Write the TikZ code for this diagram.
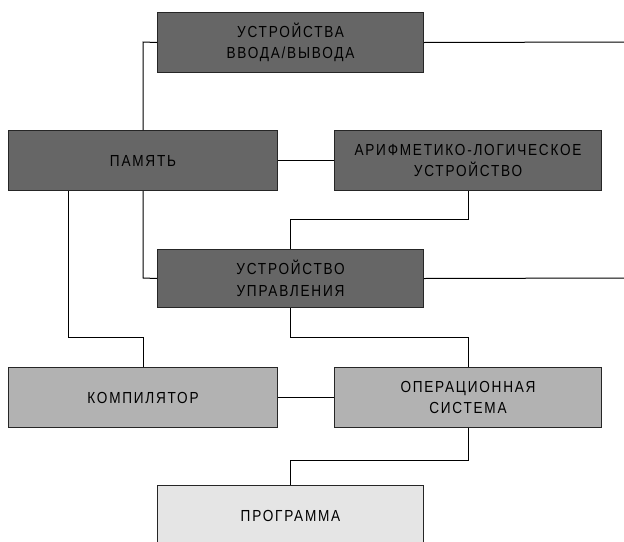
\documentclass[tikz,border=0pt]{standalone}
\usepackage{fontspec}
\setmainfont{Liberation Sans}[LetterSpace=11,FakeStretch=0.85]
\begin{document}
\begin{tikzpicture}[x=1pt,y=-1pt,
  box/.style={draw=black!85,line width=1pt,minimum width=266pt,minimum height=60pt,inner sep=0pt,align=center,font=\fontsize{16}{21.5}\selectfont,anchor=north west},
  dark/.style={box,fill=black!60},
  mid/.style={box,fill=black!30},
  light/.style={box,fill=black!10},
  wire/.style={draw=black,line width=1pt}]
\useasboundingbox (0,0) rectangle (624,541);
\clip (0,0) rectangle (624,541);
\node[dark] (io) at (157,12) {УСТРОЙСТВА\\ВВОДА/ВЫВОДА};
\node[dark,minimum width=269pt] (mem) at (8,130) {ПАМЯТЬ};
\node[dark,minimum width=267pt] (alu) at (334,130) {АРИФМЕТИКО-ЛОГИЧЕСКОЕ\\УСТРОЙСТВО};
\node[dark,minimum height=58pt] (cu) at (157,249) {УСТРОЙСТВО\\УПРАВЛЕНИЯ};
\node[mid,minimum width=269pt] (comp) at (8,367) {КОМПИЛЯТОР};
\node[mid,minimum width=267pt] (os) at (334,367) {ОПЕРАЦИОННАЯ\\СИСТЕМА};
\node[light] (prog) at (157,485) {ПРОГРАММА};
\coordinate (ioout) at (624,42);
\coordinate (cuout) at (624,278);
\draw[wire] (io.west) -- (143,42) -- (mem.north -| 143,0);
\draw[wire] (io.east) -- (ioout);
\draw[wire] (mem.east) -- (alu.west);
\draw[wire] (alu.south -| 468,0) -- (468,219) -- (290,219) -- (cu.north -| 290,0);
\draw[wire] (mem.south -| 143,0) -- (143,278) -- (cu.west);
\draw[wire] (cu.east) -- (cuout);
\draw[wire] (mem.south -| 68,0) -- (68,337) -- (143,337) -- (comp.north -| 143,0);
\draw[wire] (cu.south -| 290,0) -- (290,337) -- (468,337) -- (os.north -| 468,0);
\draw[wire] (comp.east) -- (os.west);
\draw[wire] (os.south -| 468,0) -- (468,460) -- (290,460) -- (prog.north -| 290,0);
\end{tikzpicture}
\end{document}
